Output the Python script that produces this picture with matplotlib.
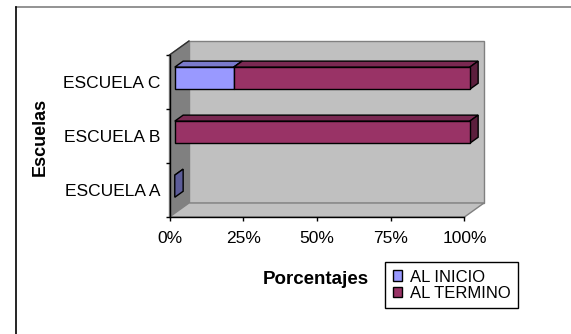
import matplotlib
matplotlib.use("Agg")
import matplotlib.pyplot as plt
from matplotlib.patches import Polygon, Rectangle
from matplotlib.lines import Line2D
from matplotlib.transforms import IdentityTransform
from matplotlib.colors import to_rgb

# --- data -------------------------------------------------------------
categories = ["ESCUELA A", "ESCUELA B", "ESCUELA C"]
series_names = ["AL INICIO", "AL TERMINO"]
al_inicio = [0, 0, 20]
al_termino = [0, 100, 80]
x_ticks = [0, 25, 50, 75, 100]
x_tick_labels = ["0%", "25%", "50%", "75%", "100%"]

series_values = [al_inicio, al_termino]
series_colors = ["#9999FF", "#993366"]

# --- figure -----------------------------------------------------------
plt.rcParams["font.family"] = ["Liberation Sans", "DejaVu Sans"]
W, H, DPI = 571, 334, 100
fig = plt.figure(figsize=(W / DPI, H / DPI), dpi=DPI)
fig.patch.set_facecolor("white")

# front plane of the 3-D plot box
ax = fig.add_axes([169.5 / W, (H - 217) / H, 295 / W, 162 / H])
ax.set_xlim(0, 100)
ax.set_ylim(0, len(categories))
ax.patch.set_visible(False)
for side in ("top", "right"):
    ax.spines[side].set_visible(False)
for side in ("left", "bottom"):
    ax.spines[side].set_color("black")
    ax.spines[side].set_linewidth(1.0)
    ax.spines[side].set_zorder(6)

# oblique depth direction (pixels right / up for full depth)
DEPTH = (19.5, 14.0)


def proj(x, y, d):
    px, py = ax.transData.transform((x, y))
    return (px + d * DEPTH[0], py + d * DEPTH[1])


def shade(color, k):
    r, g, b = to_rgb(color)
    return (r * k, g * k, b * k)


def face(points, fc, ec="black", lw=1.0, z=3):
    poly = Polygon([proj(*p) for p in points], closed=True,
                   transform=IdentityTransform(), facecolor=fc,
                   edgecolor=ec, linewidth=lw, clip_on=False, zorder=z,
                   joinstyle="miter")
    ax.add_patch(poly)


n = len(categories)
# walls and floor
face([(0, 0, 1), (100, 0, 1), (100, n, 1), (0, n, 1)], "#C0C0C0", "#808080", 1.0, 1)
face([(0, 0, 0), (0, n, 0), (0, n, 1), (0, 0, 1)], "#808080", "#808080", 1.0, 1)
face([(0, 0, 0), (100, 0, 0), (100, 0, 1), (0, 0, 1)], "#C0C0C0", "#808080", 1.0, 1)
top_edge = Line2D(*zip(proj(0, n, 0), proj(0, n, 1)), color="#303030",
                  linewidth=1.0, transform=IdentityTransform(), clip_on=False, zorder=2)
ax.add_line(top_edge)

# stacked 3-D bars
BAR_H = 0.41
D0, D1 = 0.27, 0.70
for i in range(n):
    yc = i + 0.5
    y0, y1 = yc - BAR_H / 2, yc + BAR_H / 2
    total = sum(v[i] for v in series_values)
    left = 0.0
    for s, (vals, col) in enumerate(zip(series_values, series_colors)):
        w = vals[i]
        # an empty row collapses to a flat slab of the first series at 0%
        if w == 0 and not (total == 0 and s == 0):
            continue
        right = left + w
        face([(left, y1, D0), (right, y1, D0), (right, y1, D1), (left, y1, D1)],
             shade(col, 0.8))
        face([(right, y0, D0), (right, y1, D0), (right, y1, D1), (right, y0, D1)],
             shade(col, 0.6))
        if w > 0:
            face([(left, y0, D0), (right, y0, D0), (right, y1, D0), (left, y1, D0)], col)
        left = right

# ticks
tick_len = 4 * 72 / DPI
ax.set_xticks(x_ticks)
ax.set_xticklabels(x_tick_labels)
ax.tick_params(axis="x", which="major", length=tick_len, width=1.0,
               direction="out", pad=7.5, labelsize=12.5, color="black")
ax.set_yticks(range(n + 1))
ax.set_yticklabels([])
ax.set_yticks([k + 0.5 for k in range(n)], minor=True)
ax.set_yticklabels(categories, minor=True)
ax.tick_params(axis="y", which="major", length=tick_len, width=1.0,
               direction="out", color="black")
ax.tick_params(axis="y", which="minor", length=0, pad=6.8, labelsize=12.5)

# axis titles
fig.text(40 / W, (H - 137) / H, "Escuelas", rotation=90, fontsize=13,
         fontweight="bold", ha="center", va="center")
fig.text(316 / W, (H - 280) / H, "Porcentajes", fontsize=13.5,
         fontweight="bold", ha="center", va="center")

# legend
handles = [Rectangle((0, 0), 1, 1, facecolor=c, edgecolor="black", linewidth=1.0)
           for c in series_colors]
leg = fig.legend(handles, series_names, loc="upper left",
                 bbox_to_anchor=(385 / W, (H - 262) / H),
                 bbox_transform=fig.transFigure, frameon=True, fancybox=False,
                 edgecolor="black", framealpha=1, borderaxespad=0,
                 borderpad=0.45, labelspacing=0.08, handlelength=0.57,
                 handleheight=0.57, handletextpad=0.45, fontsize=12)
leg.get_frame().set_linewidth(1.0)

# chart area border
fig.add_artist(Line2D([16 / W, 1.0], [(H - 7) / H, (H - 7) / H],
                      transform=fig.transFigure, color="#808080", linewidth=1.2))
fig.add_artist(Line2D([16 / W, 16 / W], [(H - 7) / H, 0.0],
                      transform=fig.transFigure, color="black", linewidth=1.2))

fig.savefig("out.png", dpi=DPI, facecolor="white")
